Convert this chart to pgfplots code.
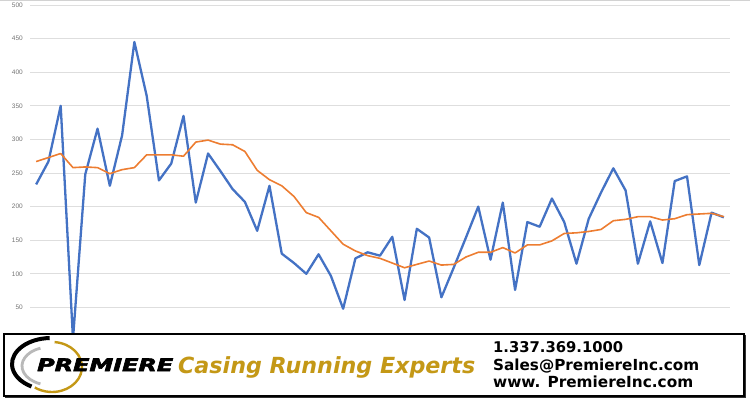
\documentclass[border=0pt]{standalone}
\usepackage{pgfplots}
\pgfplotsset{compat=1.18}
\usepackage{fontspec}
\setmainfont{DejaVu Sans}
\newfontfamily\tickfont{Liberation Sans}
\newfontfamily\premfont[BoldFont={DejaVu Sans Bold Oblique}, FakeBold=3]{DejaVu Sans Bold Oblique}
\definecolor{xlblue}{RGB}{68,114,196}
\definecolor{xlorange}{RGB}{237,125,49}
\definecolor{goldtxt}{RGB}{196,152,22}
\definecolor{gridgray}{RGB}{222,222,222}
\begin{document}
\begin{tikzpicture}[x=1pt,y=1pt]
\path[use as bounding box] (0,0) rectangle (750,400);
\draw[gray!35, line width=1.5pt] (0,400) -- (750,400);
\begin{axis}[
  at={(30pt,59pt)}, anchor=south west,
  scale only axis, width=700pt, height=336pt,
  xmin=-0.5, xmax=56.5, ymin=0, ymax=500,
  ytick={0,50,...,500}, xtick=\empty,
  ymajorgrids, grid style={gridgray, line width=0.8pt},
  axis line style={draw=none},
  major tick length=0pt,
  /pgf/number format/assume math mode=true,
  tick label style={font=\tickfont\fontsize{6.5}{7}\selectfont, text=black!55, inner sep=0pt},
  yticklabel style={anchor=east, xshift=-7pt},
  clip=false]
\addplot[xlblue, line width=2.3pt, line join=round] coordinates {
(0,233)(1,267)(2,350)(3,3)(4,248)(5,316)(6,231)(7,306)(8,445)(9,365)
(10,239)(11,264)(12,335)(13,206)(14,279)(15,253)(16,226)(17,207)(18,164)(19,231)
(20,130)(21,116)(22,100)(23,129)(24,97)(25,48)(26,123)(27,132)(28,127)(29,155)
(30,61)(31,167)(32,154)(33,65)(34,109)(35,154)(36,200)(37,121)(38,206)(39,76)
(40,177)(41,170)(42,212)(43,177)(44,115)(45,182)(46,221)(47,257)(48,224)(49,115)
(50,178)(51,116)(52,238)(53,245)(54,113)(55,191)(56,184)};
\addplot[xlorange, line width=1.6pt, line join=round] coordinates {
(0,267)(1,273)(2,279)(3,258)(4,259)(5,258)(6,249)(7,255)(8,258)(9,277)
(10,277)(11,277)(12,275)(13,296)(14,299)(15,293)(16,292)(17,282)(18,254)(19,240)
(20,231)(21,215)(22,191)(23,184)(24,164)(25,144)(26,134)(27,127)(28,123)(29,116)
(30,109)(31,114)(32,119)(33,113)(34,114)(35,125)(36,132)(37,132)(38,139)(39,131)
(40,143)(41,143)(42,149)(43,160)(44,161)(45,163)(46,166)(47,179)(48,181)(49,185)
(50,185)(51,180)(52,182)(53,188)(54,189)(55,190)(56,185)};
\end{axis}
% banner
\fill[white] (4,4) rectangle (744,66);
\draw[black, line width=1.5pt] (4,4) rectangle (744,66);
\draw[black!80, line width=1pt] (5,3) -- (745,3) -- (745,65);
% logo swooshes
\draw[goldtxt, line width=2.4pt] ([shift={(85:30 and 25)}]52,33) arc[start angle=85, end angle=-125, x radius=30, y radius=25];
\draw[gray!55, line width=2.8pt] ([shift={(110:28 and 19)}]50,34) arc[start angle=110, end angle=250, x radius=28, y radius=19];
\draw[black, line width=4pt] ([shift={(92:39 and 26)}]51,36) arc[start angle=92, end angle=240, x radius=39, y radius=26];
% texts
\node[anchor=base west, inner sep=0pt] at (37,29) {\resizebox{136pt}{12.5pt}{\premfont\bfseries PREMIERE}};
\node[anchor=base west, inner sep=0pt, text=goldtxt] at (178,27) {\resizebox{297pt}{!}{\bfseries\itshape Casing Running Experts}};
\node[anchor=base west, inner sep=0pt] at (493,48) {\resizebox{130pt}{!}{\bfseries 1.337.369.1000}};
\node[anchor=base west, inner sep=0pt] at (493,30) {\resizebox{206pt}{!}{\bfseries Sales@PremiereInc.com}};
\node[anchor=base west, inner sep=0pt] at (493,13) {\resizebox{200pt}{!}{\bfseries www. PremiereInc.com}};
\end{tikzpicture}
\end{document}
